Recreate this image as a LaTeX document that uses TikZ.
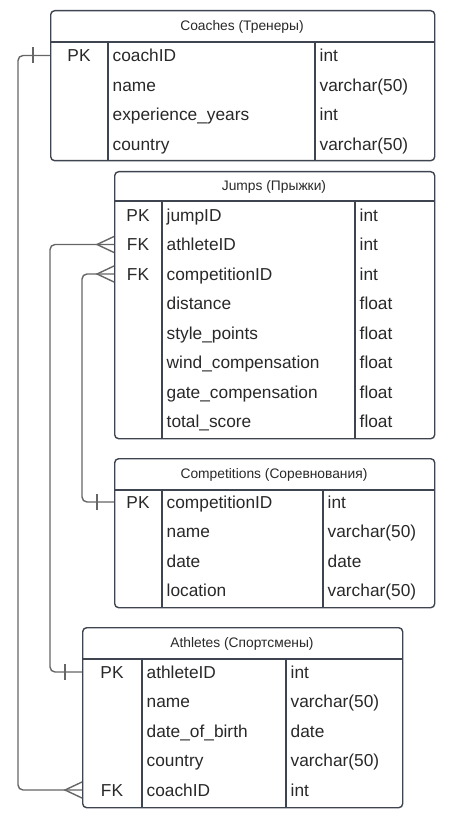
\documentclass[tikz,border=0pt]{standalone}
\usepackage{fontspec}
\setmainfont{Liberation Sans}
\usetikzlibrary{calc}
\definecolor{linec}{HTML}{3F4451}
\definecolor{relc}{HTML}{666666}
\definecolor{txtc}{HTML}{282828}

\begin{document}
\begin{tikzpicture}[x=1pt, y=-1pt, line width=1.4pt,
  tbl/.style={draw=linec, rounded corners=4pt, anchor=north west, inner sep=0pt},
  grid/.style={draw=linec},
  title/.style={font=\fontsize{13.8}{16}\selectfont, text=txtc, text height=9.9pt, text depth=0pt, inner sep=0pt},
  key/.style={font=\fontsize{17.3}{20}\selectfont, text=txtc, text height=12.4pt, text depth=0pt, inner ysep=0pt},
  fld/.style={key, anchor=west, inner xsep=4pt},
  rel/.style={draw=relc, rounded corners=5pt},
  foot/.style={draw=relc}]

\useasboundingbox (0,0) rectangle (448,818);

% Coaches
\node[tbl, minimum width=384pt, minimum height=150pt] (coaches) at (50,10) {};
\node[title] (co-title) at (242,26) {Coaches (Тренеры)};
\draw[grid] (50,42) -- (434,42) (108,42) -- (108,160) (315,42) -- (315,160);
\node[key] (co-pk) at (79,55.5) {PK};
\foreach \f/\t [count=\i] in {coachID/int, name/varchar(50), experience\_years/int, country/varchar(50)}{
  \node[fld] (co-f\i) at (108,26+29.5*\i) {\f};
  \node[fld] (co-t\i) at (315,26+29.5*\i) {\t};
}

% Jumps
\node[tbl, minimum width=320pt, minimum height=267pt] (jumps) at (114,171) {};
\node[title] (ju-title) at (274,186) {Jumps (Прыжки)};
\draw[grid] (114,201) -- (434,201) (162,201) -- (162,438) (355,201) -- (355,438);
\node[key] (ju-pk) at (138,215) {PK};
\node[key] (ju-fk1) at (138,244.5) {FK};
\node[key] (ju-fk2) at (138,274) {FK};
\foreach \f/\t [count=\i] in {jumpID/int, athleteID/int, competitionID/int, distance/float, style\_points/float, wind\_compensation/float, gate\_compensation/float, total\_score/float}{
  \node[fld] (ju-f\i) at (162,185.5+29.5*\i) {\f};
  \node[fld] (ju-t\i) at (355,185.5+29.5*\i) {\t};
}

% Competitions
\node[tbl, minimum width=320pt, minimum height=149pt] (comps) at (114,458) {};
\node[title] (cp-title) at (274,474) {Competitions (Соревнования)};
\draw[grid] (114,490) -- (434,490) (162,490) -- (162,607) (323,490) -- (323,607);
\node[key] (cp-pk) at (138,502) {PK};
\foreach \f/\t [count=\i] in {competitionID/int, name/varchar(50), date/date, location/varchar(50)}{
  \node[fld] (cp-f\i) at (162,472.5+29.5*\i) {\f};
  \node[fld] (cp-t\i) at (323,472.5+29.5*\i) {\t};
}

% Athletes
\node[tbl, minimum width=320pt, minimum height=180pt] (athletes) at (82,627) {};
\node[title] (at-title) at (242,643) {Athletes (Спортсмены)};
\draw[grid] (82,659) -- (402,659) (142,659) -- (142,807) (286,659) -- (286,807);
\node[key] (at-pk) at (112,672) {PK};
\node[key] (at-fk) at (112,790) {FK};
\foreach \f/\t [count=\i] in {athleteID/int, name/varchar(50), date\_of\_birth/date, country/varchar(50), coachID/int}{
  \node[fld] (at-f\i) at (142,642.5+29.5*\i) {\f};
  \node[fld] (at-t\i) at (286,642.5+29.5*\i) {\t};
}

% relations
\coordinate (coPK) at (coaches.west |- co-pk);
\coordinate (atPK) at (athletes.west |- at-pk);
\coordinate (atFK) at (athletes.west |- at-fk);
\coordinate (cpPK) at (comps.west |- cp-pk);
\coordinate (juFK1) at (jumps.west |- ju-fk1);
\coordinate (juFK2) at (jumps.west |- ju-fk2);

\draw[rel] (coPK) -- ++(-32,0) |- (atFK);
\draw[rel] (juFK1) -- ++(-64,0) |- (atPK);
\draw[rel] (juFK2) -- ++(-32,0) |- (cpPK);

% one
\draw[foot] ($(coPK)+(-17,-8)$) -- ++(0,16);
\draw[foot] ($(atPK)+(-17,-8)$) -- ++(0,16);
\draw[foot] ($(cpPK)+(-17,-8)$) -- ++(0,16);
% many
\draw[foot] ($(atFK)+(0,-8)$) -- ++(-17,8) -- ++(17,8);
\draw[foot] ($(juFK1)+(0,-8)$) -- ++(-17,8) -- ++(17,8);
\draw[foot] ($(juFK2)+(0,-8)$) -- ++(-17,8) -- ++(17,8);

\end{tikzpicture}
\end{document}
